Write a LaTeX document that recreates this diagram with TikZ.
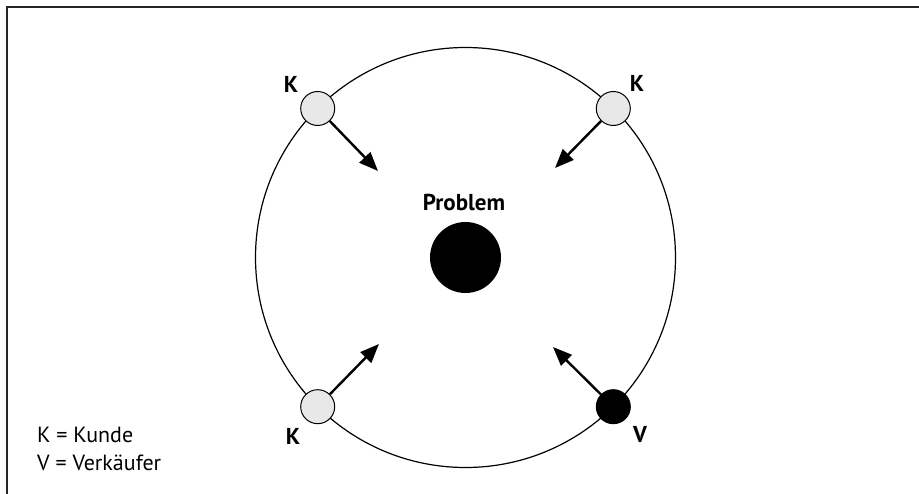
\documentclass[tikz,border=0pt]{standalone}
\usepackage{fontspec}
\setmainfont{PT Sans}
\usetikzlibrary{arrows.meta}
\begin{document}
\begin{tikzpicture}[x=1pt,y=-1pt,
  kunde/.style={circle,draw=black,line width=1pt,fill=black!9,minimum size=34pt,inner sep=0pt},
  verk/.style={circle,draw=black,line width=1pt,fill=black,minimum size=34pt,inner sep=0pt},
  lbl/.style={font=\bfseries\fontsize{23}{26}\selectfont,inner sep=0pt},
  legend/.style={font=\fontsize{22}{26}\selectfont,inner sep=0pt,anchor=west},
  pfeil/.style={line width=2.4pt,-{Triangle[length=19pt,width=15pt]},shorten >=0pt}]
\useasboundingbox (0,0) rectangle (919,494);
\draw[line width=2pt,black!85] (7,494) -- (7,7.5) -- (919,7.5);
\node[circle,draw=black,line width=1.2pt,minimum size=420pt,inner sep=0pt] (ring) at (465.5,257.5) {};
\node[circle,fill=black,minimum size=71pt,inner sep=0pt] (prob) at (465.5,257.5) {};
\node[lbl] (ptext) at (464,202) {Problem};
\node[kunde] (k1) at (317.7,108.5) {};
\node[kunde] (k2) at (613.3,108.5) {};
\node[kunde] (k3) at (317.7,406.7) {};
\node[verk] (v) at (613.3,406.7) {};
\coordinate (a1) at (378,171);
\coordinate (a2) at (555,168);
\coordinate (a3) at (379,344);
\coordinate (a4) at (553,347);
\draw[pfeil] (k1) -- (a1);
\draw[pfeil] (k2) -- (a2);
\draw[pfeil] (k3) -- (a3);
\draw[pfeil] (v) -- (a4);
\node[lbl] (lk1) at (291,84) {K};
\node[lbl] (lk2) at (637,83) {K};
\node[lbl] (lk3) at (293,436) {K};
\node[lbl] (lv) at (640,435) {V};
\node[legend] (leg1) at (37,435) {K = Kunde};
\node[legend] (leg2) at (37,463) {V = Verkäufer};
\end{tikzpicture}
\end{document}
